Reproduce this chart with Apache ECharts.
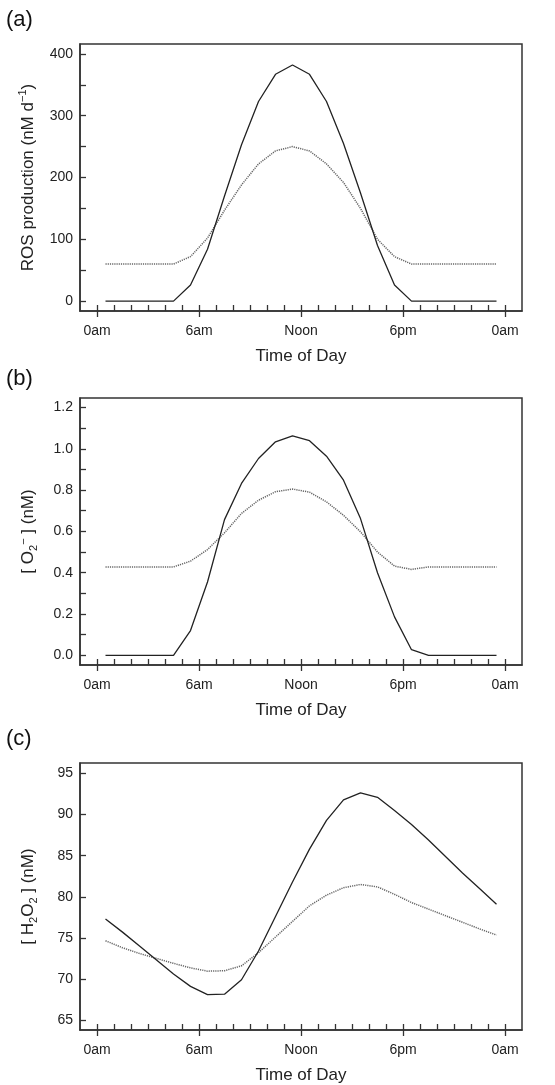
<!DOCTYPE html>
<html>
<head>
<meta charset="utf-8">
<script src="https://cdn.jsdelivr.net/npm/echarts@6/dist/echarts.min.js"></script>
<style>
html,body{margin:0;padding:0;background:#fff;}
#chart{width:555px;height:1085px;}
</style>
</head>
<body>
<div id="chart"></div>
<script>
// ---- data ----
var HOURS = [0.5,1.5,2.5,3.5,4.5,5.5,6.5,7.5,8.5,9.5,10.5,11.5,12.5,13.5,14.5,15.5,16.5,17.5,18.5,19.5,20.5,21.5,22.5,23.5];

var ROS_SOLID  = [0,0,0,0,0,26,84,170,253,323,367,382,367,323,255,175,90,26,0,0,0,0,0,0];
var ROS_DOTTED = [60,60,60,60,60,72,102,147,188,222,243,250,243,222,192,150,100,72,60,60,60,60,60,60];

var O2_SOLID  = [0,0,0,0,0,0.12,0.355,0.657,0.832,0.953,1.034,1.063,1.039,0.964,0.848,0.662,0.40,0.186,0.027,0,0,0,0,0];
var O2_DOTTED = [0.428,0.428,0.428,0.428,0.428,0.456,0.512,0.593,0.687,0.751,0.792,0.805,0.79,0.743,0.678,0.598,0.50,0.432,0.416,0.428,0.428,0.428,0.428,0.428];

var H2O2_SOLID  = [77.3,75.7,74.0,72.3,70.6,69.1,68.1,68.15,69.9,73.4,77.6,81.8,85.8,89.3,91.8,92.65,92.1,90.5,88.8,86.9,84.9,82.9,81.0,79.1];
var H2O2_DOTTED = [74.65,73.8,73.1,72.5,71.9,71.35,70.95,71.0,71.6,73.2,75.1,77.0,78.9,80.2,81.1,81.5,81.2,80.3,79.3,78.5,77.7,76.9,76.1,75.35];

var X_MAJOR = [0,6,12,18,24];
var X_LABELS = {0:'0am',6:'6am',12:'Noon',18:'6pm',24:'0am'};
var X_MINOR = [0,1,2,3,4,5,6,7,8,9,10,11,12,13,14,15,16,17,18,19,20,21,22,23,24];

var A_TICKS  = [0,50,100,150,200,250,300,350,400];
var A_LABELS = [0,100,200,300,400];
var B_TICKS  = [0,0.1,0.2,0.3,0.4,0.5,0.6,0.7,0.8,0.9,1.0,1.1,1.2];
var B_LABELS = [0,0.2,0.4,0.6,0.8,1.0,1.2];
var C_TICKS  = [65,70,75,80,85,90,95];
var C_LABELS = [65,70,75,80,85,90,95];

var FONT = 'Liberation Sans, Arial, Helvetica, sans-serif';
var INK = '#222';

function pairs(xs, ys){ return xs.map(function(x,i){ return [x, ys[i]]; }); }

var panels = [
  {top:44,  height:267, ymin:-16,   ymax:416,   ticks:A_TICKS, labels:A_LABELS, fmt:function(v){return String(v);},
   name:'ROS production (nM d{sup|−1})', solid:ROS_SOLID, dotted:ROS_DOTTED, tag:'(a)', tagTop:9},
  {top:398, height:267, ymin:-0.047,ymax:1.246, ticks:B_TICKS, labels:B_LABELS, fmt:function(v){return v.toFixed(1);},
   name:'[ O{sub|2}{sup|−} ] (nM)', solid:O2_SOLID, dotted:O2_DOTTED, tag:'(b)', tagTop:368},
  {top:763, height:268, ymin:63.79, ymax:96.28, ticks:C_TICKS, labels:C_LABELS, fmt:function(v){return String(v);},
   name:'[ H{sub|2}O{sub|2} ] (nM)', solid:H2O2_SOLID, dotted:H2O2_DOTTED, tag:'(c)', tagTop:728}
];

var grids=[], xAxes=[], yAxes=[], series=[], titles=[];
panels.forEach(function(p, k){
  grids.push({left:80, width:442, top:p.top, height:p.height, show:true, borderColor:'#333', borderWidth:1.5, backgroundColor:'transparent'});
  var base = {type:'value', gridIndex:k, min:-1, max:25, splitLine:{show:false}};
  // main x axis: outside major ticks + labels + name
  xAxes.push(Object.assign({}, base, {
    position:'bottom',
    axisLine:{show:true, onZero:false, lineStyle:{color:'#333', width:1.5}},
    axisTick:{show:true, inside:false, length:6, customValues:X_MAJOR, lineStyle:{color:'#333', width:1.3}},
    axisLabel:{show:true, customValues:X_MAJOR, margin:13, fontSize:14, color:INK, fontFamily:FONT,
      formatter:function(v){ return X_LABELS[v] !== undefined ? X_LABELS[v] : ''; }},
    name:'Time of Day', nameLocation:'middle', nameGap:37,
    nameTextStyle:{fontSize:17, color:INK, fontFamily:FONT}
  }));
  // hourly inside ticks
  xAxes.push(Object.assign({}, base, {
    position:'bottom',
    axisLine:{show:false, onZero:false},
    axisTick:{show:true, inside:true, length:6, customValues:X_MINOR, lineStyle:{color:'#333', width:1.3}},
    axisLabel:{show:false}
  }));
  yAxes.push({
    type:'value', gridIndex:k, min:p.ymin, max:p.ymax, splitLine:{show:false},
    axisLine:{show:true, onZero:false, lineStyle:{color:'#333', width:1.5}},
    axisTick:{show:true, inside:true, length:6, customValues:p.ticks, lineStyle:{color:'#333', width:1.3}},
    axisLabel:{show:true, customValues:p.labels, margin:7, fontSize:14, color:INK, fontFamily:FONT, formatter:p.fmt},
    name:p.name, nameLocation:'middle', nameGap:41,
    nameTextStyle:{fontSize:17, color:INK, fontFamily:FONT, lineHeight:21,
      rich:{
        sup:{fontSize:11, color:INK, fontFamily:FONT, verticalAlign:'top', lineHeight:21},
        sub:{fontSize:11, color:INK, fontFamily:FONT, verticalAlign:'bottom', lineHeight:21}
      }}
  });
  var xi = k*2;
  series.push({type:'line', xAxisIndex:xi, yAxisIndex:k, data:pairs(HOURS, p.dotted), showSymbol:false, symbol:'none',
    lineStyle:{color:'#666', width:1.5, type:[1.2,1]}, silent:true, animation:false, z:2});
  series.push({type:'line', xAxisIndex:xi, yAxisIndex:k, data:pairs(HOURS, p.solid), showSymbol:false, symbol:'none',
    lineStyle:{color:'#222', width:1.3, type:'solid'}, silent:true, animation:false, z:3});
  titles.push({text:p.tag, left:6, top:p.tagTop, padding:0, textStyle:{fontSize:22, fontWeight:'normal', color:'#111', fontFamily:FONT}});
});

var chart = echarts.init(document.getElementById('chart'), null, {renderer:'canvas'});
chart.setOption({
  animation:false,
  backgroundColor:'#fff',
  title:titles,
  grid:grids,
  xAxis:xAxes,
  yAxis:yAxes,
  series:series
});
</script>
</body>
</html>
